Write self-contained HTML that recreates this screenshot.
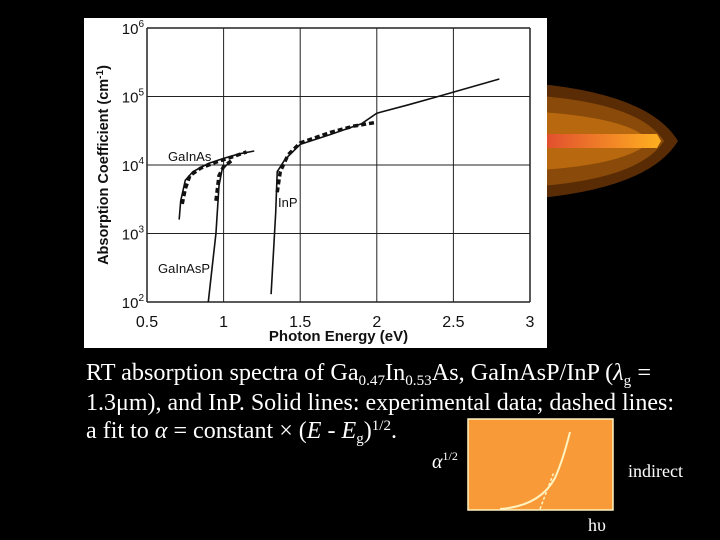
<!DOCTYPE html>
<html><head><meta charset="utf-8"><style>
html,body{margin:0;padding:0;background:#000;}
svg{display:block;}
</style></head><body>
<svg id="s" width="720" height="540" viewBox="0 0 720 540" xmlns="http://www.w3.org/2000/svg">
<defs>
<linearGradient id="core" x1="0" x2="1"><stop offset="0" stop-color="#e04a30"/><stop offset="1" stop-color="#ffb020"/></linearGradient>
</defs>
<g>
<path d="M540 84 Q650 95 678 141 Q650 187 540 198 Z" fill="#5a2c06"/>
<path d="M540 96 Q640 104 664 141 Q640 178 540 186 Z" fill="#8a4a0a"/>
<path d="M540 112 Q630 118 650 141 Q630 164 540 170 Z" fill="#b8680e"/>
<path d="M540 134 L657 134 L661 141 L657 148 L540 148 Z" fill="url(#core)"/>
</g>
<rect x="84" y="18" width="463" height="330" fill="#fff"/>
<g id="plot"></g>
<g font-family="'Liberation Serif',serif" font-size="24" fill="#fff">
<text x="86" y="380" textLength="565" lengthAdjust="spacingAndGlyphs">RT absorption spectra of Ga<tspan font-size="15" dy="5">0.47</tspan><tspan dy="-5">In</tspan><tspan font-size="15" dy="5">0.53</tspan><tspan dy="-5">As, GaInAsP/InP (</tspan><tspan font-style="italic">λ</tspan><tspan font-size="15" dy="5">g</tspan><tspan dy="-5"> =</tspan></text>
<text x="86" y="410" textLength="588" lengthAdjust="spacingAndGlyphs">1.3μm), and InP. Solid lines: experimental data; dashed lines:</text>
<text x="86" y="438" textLength="311" lengthAdjust="spacingAndGlyphs">a fit to <tspan font-style="italic">α</tspan> = constant × (<tspan font-style="italic">E</tspan> - <tspan font-style="italic">E</tspan><tspan font-size="15" dy="5">g</tspan><tspan dy="-5">)</tspan><tspan font-size="15" dy="-8">1/2</tspan><tspan dy="8">.</tspan></text>
</g>
<g>
<rect x="468" y="419" width="145" height="91" fill="#f99a38" stroke="#fff3c0" stroke-width="1.5"/>
<path d="M500 509 Q540 506 555 478 Q563 460 570 432" fill="none" stroke="#fff3c0" stroke-width="2"/>
<path d="M540 509 L554 472" fill="none" stroke="#fff3c0" stroke-width="1.5" stroke-dasharray="3,2"/>
<text x="432" y="468" font-family="'Liberation Serif',serif" font-size="20" font-style="italic" fill="#fff">α<tspan font-size="12" dy="-8" font-style="normal">1/2</tspan></text>
<text x="628" y="477" font-family="'Liberation Serif',serif" font-size="18" fill="#fff">indirect</text>
<text x="588" y="531" font-family="'Liberation Serif',serif" font-size="18" fill="#fff">hυ</text>
</g>
</svg>
<script>
const xTicks=[0.5,1,1.5,2,2.5,3];
const xTickLabels=["0.5","1","1.5","2","2.5","3"];
const yDecades=[2,3,4,5,6];
const gainasSolidE=[0.71,0.72,0.75,0.8,0.9,1.0,1.1,1.2];
const gainasSolidA=[1600,3000,6000,8000,10500,12500,14500,16000];
const gainasFitE=[0.73,0.75,0.78,0.85,0.95,1.05,1.15];
const gainasFitA=[2700,4500,7000,9000,11000,13000,15500];
const gainaspSolidE=[0.9,0.93,0.95,0.97,0.99,1.02,1.05];
const gainaspSolidA=[100,400,1000,5000,8500,10000,11000];
const gainaspFitE=[0.95,0.97,1.0,1.05];
const gainaspFitA=[3000,7000,9500,11500];
const inpSolidE=[1.31,1.33,1.34,1.35,1.4,1.5,1.7,1.9,2.0,2.2,2.4,2.8];
const inpSolidA=[130,800,2000,8000,12000,20000,28000,40000,57000,75000,100000,180000];
const inpFitE=[1.35,1.37,1.42,1.5,1.7,1.85,2.0];
const inpFitA=[4000,8000,14000,21000,30000,37000,42000];
const X0=147,X1=530,Y6=28,Y2=302;
const xs=e=>X0+(e-0.5)/2.5*(X1-X0);
const ys=a=>Y2-(Math.log10(a)-2)/4*(Y2-Y6);
const NS="http://www.w3.org/2000/svg";
const g=document.getElementById('plot');
function mk(t,at){const el=document.createElementNS(NS,t);for(const k in at)el.setAttribute(k,at[k]);g.appendChild(el);return el;}
xTicks.forEach((t,i)=>{
 const l=mk('line',{x1:xs(t),x2:xs(t),y1:Y6,y2:Y2,stroke:'#222','stroke-width':i==0||i==5?1.5:1});
 
 
 const tx=mk('text',{x:xs(t),y:Y2+25,'text-anchor':'middle','font-family':'Liberation Sans,sans-serif','font-size':16,fill:'#111'});
 tx.textContent=xTickLabels[i];
 
 
});
yDecades.forEach(d=>{
 const y=ys(Math.pow(10,d));
 const l=mk('line',{x1:X0,x2:X1,y1:y,y2:y,stroke:'#222','stroke-width':d==2||d==6?1.5:1});
 
 
 const tx=mk('text',{x:X0-3,y:y+6,'text-anchor':'end','font-family':'Liberation Sans,sans-serif','font-size':15,fill:'#111'});
 tx.innerHTML='10<tspan font-size="10" dy="-7">'+d+'</tspan>';
 
 
});
let t=mk('text',{x:(X0+X1)/2,y:341,'text-anchor':'middle','font-family':'Liberation Sans,sans-serif','font-size':15,'font-weight':'bold',fill:'#111'});
t.textContent='Photon Energy (eV)';


t=mk('text',{x:0,y:0,transform:'translate(108,165) rotate(-90)','text-anchor':'middle','font-family':'Liberation Sans,sans-serif','font-size':14.5,'font-weight':'bold',fill:'#111'});
t.innerHTML='Absorption Coefficient (cm<tspan font-size="10" dy="-5">-1</tspan><tspan dy="5">)</tspan>';


function series(E,A,dash,name){
 const p=mk('polyline',{points:E.map((e,i)=>xs(e)+','+ys(A[i])).join(' '),fill:'none',stroke:'#111','stroke-width':dash?3.5:1.6});
 if(dash)p.setAttribute('stroke-dasharray','5,3');
 
 
}
series(gainasSolidE,gainasSolidA,false,'gainas-experimental-line');
series(gainasFitE,gainasFitA,true,'gainas-fit-line');
series(gainaspSolidE,gainaspSolidA,false,'gainasp-experimental-line');
series(gainaspFitE,gainaspFitA,true,'gainasp-fit-line');
series(inpSolidE,inpSolidA,false,'inp-experimental-line');
series(inpFitE,inpFitA,true,'inp-fit-line');
[['GaInAs',168,161],['GaInAsP',158,273],['InP',278,207]].forEach(([s,x,y])=>{
 const tx=mk('text',{x:x,y:y,'font-family':'Liberation Sans,sans-serif','font-size':13,fill:'#111'});
 tx.textContent=s;
 
 
});
</script>
</body></html>
